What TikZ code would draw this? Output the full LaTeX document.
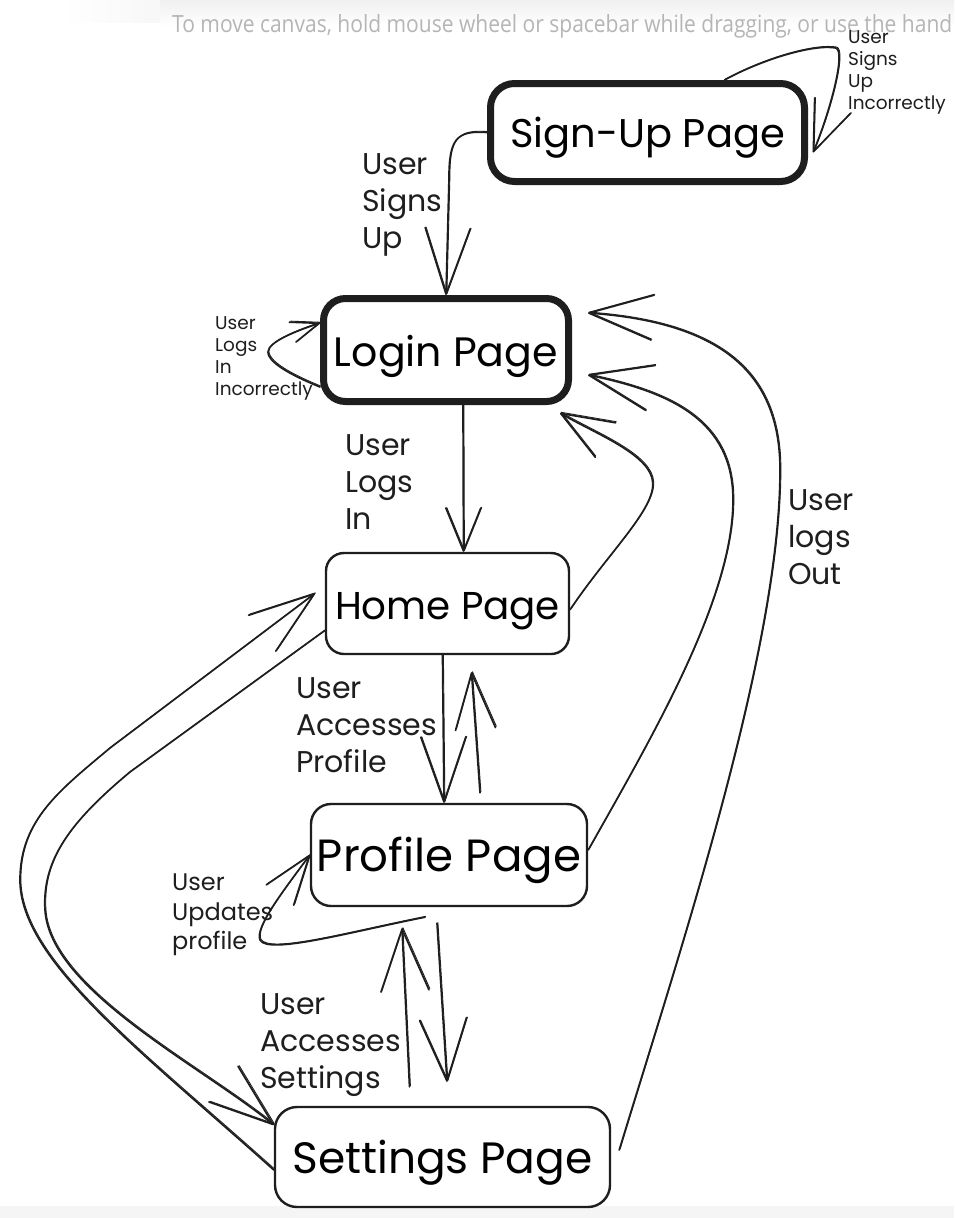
\documentclass[tikz,border=0pt]{standalone}
\usepackage{fontspec}
\setmainfont{Poppins}
\newfontfamily\uifont{Open Sans}
\usetikzlibrary{arrows.meta}
\definecolor{ink}{HTML}{1E1E1E}
\definecolor{hint}{HTML}{B5B5B5}
\newcommand{\boxtext}[3]{\raisebox{-#1}[\height][\depth]{\resizebox{#2}{!}{#3}}}
\begin{document}
\begin{tikzpicture}[x=1pt,y=-1pt,
  thickbox/.style={draw=ink, fill=white, line width=7pt, rounded corners=24pt, inner sep=0pt},
  thinbox/.style={draw=ink, fill=white, line width=2.4pt, rounded corners=20pt, inner sep=0pt},
  lbl/.style={anchor=north west, align=left, inner sep=0pt, text=ink, font=\fontsize{30}{37}\selectfont},
  mlbl/.style={anchor=north west, align=left, inner sep=0pt, text=ink, font=\fontsize{24}{29.5}\selectfont},
  slbl/.style={anchor=north west, align=left, inner sep=0pt, text=ink, font=\fontsize{18.5}{22.3}\selectfont},
  conn/.style={draw=ink, line width=1.7pt, line cap=round, line join=round,
    preaction={draw=ink, line width=0.9pt, transform canvas={shift={(0.9pt,0.9pt)}}}},
  ah/.style 2 args={-{Straight Barb[length=#1,width=#2,round]}}
]
\useasboundingbox (0,0) rectangle (954,1218);
\fill[white] (0,0) rectangle (954,1218);
\shade[top color=black!6, bottom color=white] (160,0) rectangle (954,26);
\shade[left color=white, right color=black!3] (60,0) rectangle (160,22);
\fill[black!4] (0,1206) rectangle (954,1218);

\node[anchor=base west, inner sep=0pt, text=hint] (hint) at (172,32)
  {\uifont\resizebox{780pt}{18pt}{To move canvas, hold mouse wheel or spacebar while dragging, or use the hand}};

% boxes
\node[thickbox, minimum width=314pt, minimum height=98pt] (signup) at (647.5,132.5) {\boxtext{5pt}{275pt}{Sign-Up Page}};
\node[thickbox, rounded corners=22pt, minimum width=245pt, minimum height=103pt] (login) at (446,350) {\boxtext{6pt}{224pt}{Login Page}};
\node[thinbox, rounded corners=18pt, minimum width=243pt, minimum height=101pt] (home) at (447.5,603.5) {\boxtext{8pt}{225pt}{Home Page}};
\node[thinbox, minimum width=276pt, minimum height=102pt] (profile) at (449,855) {\boxtext{5pt}{264pt}{Profile Page}};
\node[thinbox, rounded corners=22pt, minimum width=335pt, minimum height=100pt] (settings) at (442.5,1157) {\boxtext{6pt}{300pt}{Settings Page}};

% connectors
\draw[conn, ah={66pt}{45pt}] (signup.west) .. controls (456,130) and (449,140) .. (449,178) -- (login.north);
\draw[conn, ah={50pt}{39pt}] ([xshift=77pt]signup.north) .. controls (765,58) and (815,44) .. (836,48) .. controls (846,52) and (830,112) .. ([xshift=5pt,yshift=-20pt]signup.east);
\draw[conn, ah={28pt}{21pt}] ([yshift=-37pt]login.west) .. controls (298,378) and (268,364) .. (268,352) .. controls (268,342) and (296,331) .. ([yshift=27pt]login.west);
\draw[conn, ah={43pt}{35pt}] ([xshift=17pt]login.south) -- ([xshift=16pt]home.north);
\draw[conn, ah={52pt}{40pt}] ([yshift=-6pt]home.east) .. controls (610,550) and (660,505) .. (652,478) .. controls (645,452) and (592,432) .. ([xshift=-12pt,yshift=-8pt]login.south east);
\draw[conn, ah={63pt}{46pt}] ([yshift=5pt]profile.east) .. controls (650,740) and (733,600) .. (733,500) .. controls (733,420) and (670,392) .. ([xshift=16pt,yshift=-25pt]login.east);
\draw[conn, ah={64pt}{45pt}] ([xshift=8pt,yshift=7pt]settings.east) .. controls (680,950) and (780,650) .. (780,470) .. controls (780,380) and (730,323) .. ([xshift=16pt,yshift=37pt]login.east);
\draw[conn, ah={65pt}{45pt}] ([xshift=-5pt]home.south) -- ([xshift=-5pt]profile.north);
\draw[conn, ah={56pt}{40pt}] ([xshift=31pt,yshift=10pt]profile.north) -- ([xshift=24pt,yshift=-17pt]home.south);
\draw[conn, ah={62pt}{48pt}] ([xshift=-33pt,yshift=19pt]settings.north) -- ([xshift=-47pt,yshift=-21pt]profile.south);
\draw[conn, ah={62pt}{47pt}] ([xshift=-12pt,yshift=-16pt]profile.south) -- ([xshift=4.5pt,yshift=24pt]settings.north);
\draw[conn, ah={49pt}{34pt}] ([xshift=-24pt,yshift=-10pt]profile.south) .. controls (350,932) and (268,955) .. (260,940) .. controls (255,928) and (280,895) .. (profile.west);
\draw[conn, ah={65pt}{45pt}] ([yshift=-13pt]settings.west) .. controls (140,1050) and (20,960) .. (20,880) .. controls (20,820) and (60,790) .. (110,748) -- ([xshift=-10pt,yshift=10pt]home.west);
\draw[conn, ah={64pt}{46pt}] ([yshift=-27pt]home.west) -- (130,772) .. controls (70,822) and (42,860) .. (45,910) .. controls (50,990) and (200,1065) .. ([yshift=32pt]settings.west);

% labels
\node[lbl] (lsignsup) at (362,153) {User\\Signs\\Up};
\node[lbl] (llogsin) at (345,434) {User\\Logs\\In};
\node[lbl] (laccprof) at (296,677) {User\\Accesses\\Profile};
\node[lbl] (laccset) at (260,993) {User\\Accesses\\Settings};
\node[lbl] (llogsout) at (788,489) {User\\logs\\Out};
\node[slbl] (lsuinc) at (848,30) {User\\Signs\\Up\\Incorrectly};
\node[slbl] (lliinc) at (215,316) {User\\Logs\\In\\Incorrectly};
\node[mlbl] (lupd) at (172,874) {User\\Updates\\profile};
\end{tikzpicture}
\end{document}
